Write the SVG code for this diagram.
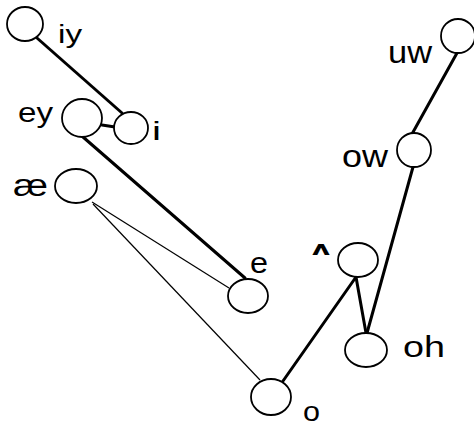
<svg xmlns="http://www.w3.org/2000/svg" width="474" height="427" viewBox="0 0 474 427">
<style>
.n{fill:#fff;stroke:#000;stroke-width:1.8}
.t{font-family:"Liberation Sans",Arial,sans-serif;fill:#000}
.thick{stroke:#000;stroke-width:3;fill:none;stroke-linecap:round}
.thin{stroke:#000;stroke-width:1.2;fill:none}
</style>
<rect width="474" height="427" fill="#fff"/>
<g id="connectors">
<line class="thick" x1="37" y1="38" x2="122" y2="113"/>
<line class="thick" x1="102" y1="125" x2="115" y2="127"/>
<line class="thick" x1="83" y1="137" x2="245" y2="278"/>
<line class="thick" x1="457" y1="53" x2="412" y2="134"/>
<line class="thick" x1="413" y1="167" x2="367" y2="333"/>
<line class="thick" x1="356" y1="277" x2="366" y2="333"/>
<line class="thick" x1="356" y1="277" x2="283" y2="381"/>
<line class="thin" x1="92" y1="202" x2="229" y2="288"/>
<line class="thin" x1="93" y1="204" x2="260" y2="380"/>
</g>
<g id="node-iy"><ellipse class="n" cx="25" cy="24" rx="18" ry="17"/><text class="t" x="58" y="43" font-size="26" textLength="24" lengthAdjust="spacingAndGlyphs">iy</text></g>
<g id="node-i"><ellipse class="n" cx="131" cy="128" rx="17" ry="16"/><text class="t" x="152" y="140" font-size="25" textLength="9" lengthAdjust="spacingAndGlyphs">i</text></g>
<g id="node-ey"><ellipse class="n" cx="82" cy="118" rx="20" ry="19"/><text class="t" x="18" y="122" font-size="28" textLength="35" lengthAdjust="spacingAndGlyphs">ey</text></g>
<g id="node-ae"><ellipse class="n" cx="76" cy="186" rx="21" ry="17"/><text class="t" x="13" y="196" font-size="32" textLength="35" lengthAdjust="spacingAndGlyphs">æ</text></g>
<g id="node-e"><ellipse class="n" cx="248" cy="296" rx="20" ry="17"/><text class="t" x="250" y="273" font-size="30" textLength="18" lengthAdjust="spacingAndGlyphs">e</text></g>
<g id="node-o"><ellipse class="n" cx="271" cy="397" rx="20" ry="18"/><text class="t" x="303" y="421" font-size="27" textLength="17" lengthAdjust="spacingAndGlyphs">o</text></g>
<g id="node-uw"><ellipse class="n" cx="458" cy="36" rx="17" ry="17"/><text class="t" x="388" y="63" font-size="31" textLength="44" lengthAdjust="spacingAndGlyphs">uw</text></g>
<g id="node-ow"><ellipse class="n" cx="414" cy="150" rx="17" ry="17"/><text class="t" x="342" y="167" font-size="31" textLength="46" lengthAdjust="spacingAndGlyphs">ow</text></g>
<g id="node-wedge"><ellipse class="n" cx="358" cy="260" rx="20" ry="17"/><text x="312" y="255" font-family="'DejaVu Sans',sans-serif" font-size="20" font-weight="bold" textLength="18" lengthAdjust="spacingAndGlyphs">ʌ</text></g>
<g id="node-oh"><ellipse class="n" cx="366" cy="350" rx="21" ry="17"/><text class="t" x="403" y="357" font-size="29" textLength="42" lengthAdjust="spacingAndGlyphs">oh</text></g>
</svg>
